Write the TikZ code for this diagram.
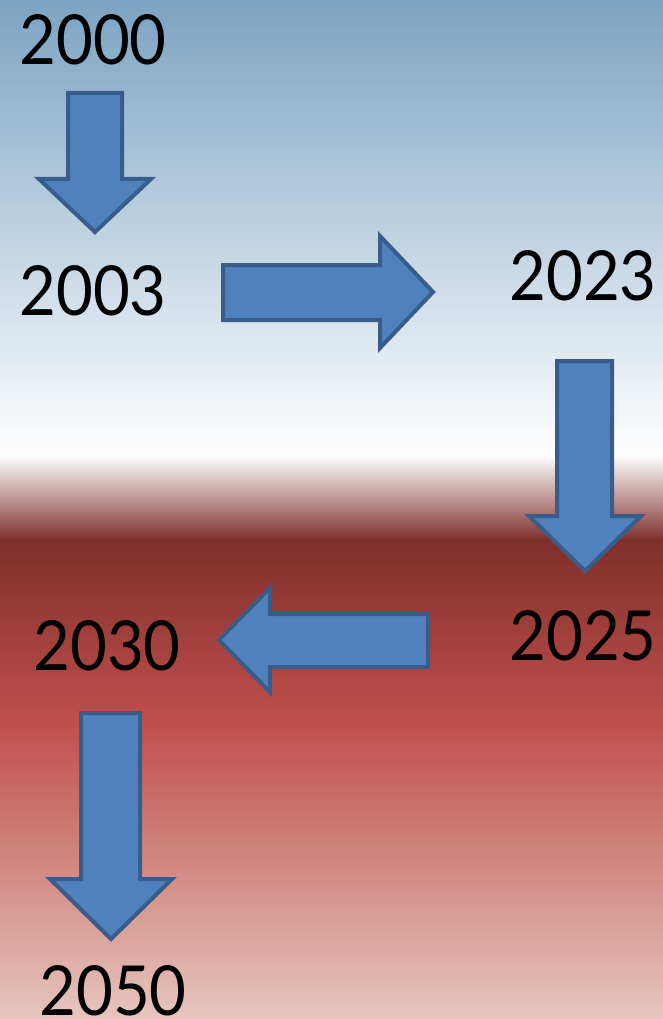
\documentclass[tikz,border=0pt]{standalone}
\usepackage{fontspec}
\setmainfont{Lato}
\newfontfamily\yearfont[FakeStretch=0.92]{Lato}
\definecolor{bgtop}{HTML}{7CA3C2}
\definecolor{bgdark}{HTML}{7F2F2C}
\definecolor{bgred}{HTML}{C0504D}
\definecolor{bgbottom}{HTML}{E6C6BE}
\definecolor{arrowfill}{HTML}{4F81BD}
\definecolor{arrowline}{HTML}{385D8A}
\begin{document}
\begin{tikzpicture}[x=1pt,y=-1pt,
  blockarrow/.style={fill=arrowfill, draw=arrowline, line width=4pt, line join=miter},
  year/.style={font=\yearfont\fontsize{69}{80}\selectfont, inner sep=0pt, anchor=base, text=black}]
\useasboundingbox (0,0) rectangle (663,1019);
% background gradient
\shade[top color=bgtop, bottom color=white] (0,0) rectangle (663,455.5);
\shade[top color=white, bottom color=bgdark] (0,455) rectangle (663,540.5);
\shade[top color=bgdark, bottom color=bgred] (0,540) rectangle (663,725.5);
\shade[top color=bgred, bottom color=bgbottom] (0,725) rectangle (663,1019);
% years
\node[year] (y2000) at (93,65) {2000};
\node[year] (y2003) at (93,315) {2003};
\node[year] (y2023) at (583,300) {2023};
\node[year] (y2025) at (583,660) {2025};
\node[year] (y2030) at (107,670) {2030};
\node[year] (y2050) at (113,1015) {2050};
% block arrows
\draw[blockarrow] (68,93) -- (122,93) -- (122,179) -- (151,179) -- (95,232) -- (39,179) -- (68,179) -- cycle;
\draw[blockarrow] (223,265) -- (380,265) -- (380,236) -- (433,292) -- (380,348) -- (380,320) -- (223,320) -- cycle;
\draw[blockarrow] (557,361) -- (612,361) -- (612,516) -- (641,516) -- (585,571) -- (529,516) -- (557,516) -- cycle;
\draw[blockarrow] (428,614) -- (270,614) -- (270,588) -- (219,640) -- (270,692) -- (270,667) -- (428,667) -- cycle;
\draw[blockarrow] (81,713) -- (140,713) -- (140,879) -- (172,879) -- (111,939) -- (50,879) -- (81,879) -- cycle;
\end{tikzpicture}
\end{document}
